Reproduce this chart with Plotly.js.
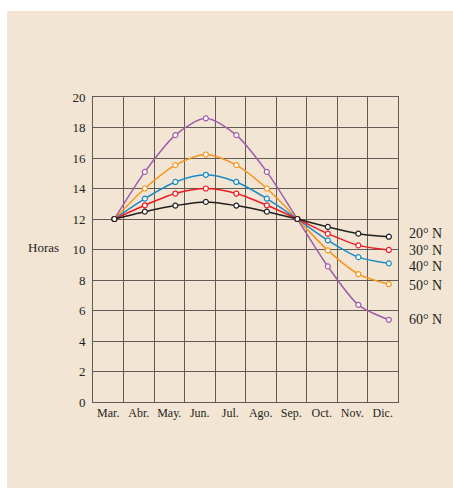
<!DOCTYPE html>
<html>
<head>
<meta charset="utf-8">
<script src="https://cdn.plot.ly/plotly-3.0.1.min.js"></script>
<style>
html,body{margin:0;padding:0;background:#ffffff;}
#chart{position:absolute;left:7px;top:11px;width:446px;height:477px;}
</style>
</head>
<body>
<div id="chart"></div>
<script>
const months = ["Mar.","Abr.","May.","Jun.","Jul.","Ago.","Sep.","Oct.","Nov.","Dic."];
const dayOfMonth = 21;
const lat20 = [12, 12.48, 12.88, 13.12, 12.88, 12.48, 12, 11.48, 11.04, 10.84];
const lat30 = [12, 12.9, 13.67, 14.0, 13.67, 12.9, 12, 11.04, 10.27, 9.97];
const lat40 = [12, 13.34, 14.43, 14.9, 14.43, 13.34, 12, 10.6, 9.5, 9.09];
const lat50 = [12, 14.0, 15.53, 16.23, 15.53, 14.0, 12, 9.94, 8.39, 7.73];
const lat60 = [12, 15.09, 17.5, 18.6, 17.5, 15.09, 12, 8.89, 6.37, 5.39];
const seriesNames = ["20° N","30° N","40° N","50° N","60° N"];
const seriesColors = ["#231f20","#ed1c24","#1a8ac6","#f7941d","#a05ca8"];
const labelY = [11.08, 9.94, 8.89, 7.64, 5.43];

const xPos = months.map((m,i) => i + dayOfMonth/30);
const all = [lat20, lat30, lat40, lat50, lat60];

const traces = [];
for (let k = all.length - 1; k >= 0; k--) {
  traces.push({
    x: xPos, y: all[k], type: 'scatter', mode: 'lines+markers',
    name: seriesNames[k],
    line: {shape: 'spline', smoothing: 0.8, color: seriesColors[k], width: 1.5},
    marker: {symbol: 'circle', size: 5, color: '#ffffff', line: {color: seriesColors[k], width: 1.2}},
    showlegend: false, hoverinfo: 'skip'
  });
}

const annotations = seriesNames.map((n,k) => ({
  text: n, xref: 'paper', yref: 'y', x: 1, y: labelY[k], xanchor: 'left', yanchor: 'middle',
  xshift: 9, showarrow: false, font: {family: 'Liberation Serif, serif', size: 14, color: '#231f20'}
}));
annotations.push({
  text: 'Horas', xref: 'paper', yref: 'y', x: 0, y: 10.1, xanchor: 'right', yanchor: 'middle',
  xshift: -32, showarrow: false, font: {family: 'Liberation Serif, serif', size: 13, color: '#231f20'}
});

const gridColor = '#625c57';
const layout = {
  width: 446, height: 477,
  paper_bgcolor: '#f2e5d3', plot_bgcolor: '#f2e5d3',
  margin: {l: 86, r: 55, t: 86, b: 86},
  font: {family: 'Liberation Serif, serif', color: '#231f20'},
  xaxis: {
    range: [0, 10], fixedrange: true,
    tickvals: months.map((m,i) => i + 0.5), ticktext: months,
    showgrid: false, zeroline: false, ticks: '',
    tickfont: {size: 12, color: '#231f20'},
    showline: true, mirror: true, linecolor: gridColor, linewidth: 1,
    minor: {tickvals: months.map((m,i) => i).concat([months.length]), showgrid: true, gridcolor: gridColor, gridwidth: 1, ticks: ''}
  },
  yaxis: {
    range: [0, 20], fixedrange: true, dtick: 2, tick0: 0,
    showgrid: true, gridcolor: gridColor, gridwidth: 1, zeroline: false,
    ticks: '', ticklabelstandoff: 4,
    tickfont: {size: 13, color: '#231f20'},
    showline: true, mirror: true, linecolor: gridColor, linewidth: 1
  },
  annotations: annotations
};

Plotly.newPlot('chart', traces, layout, {staticPlot: true, displayModeBar: false});
</script>
</body>
</html>
